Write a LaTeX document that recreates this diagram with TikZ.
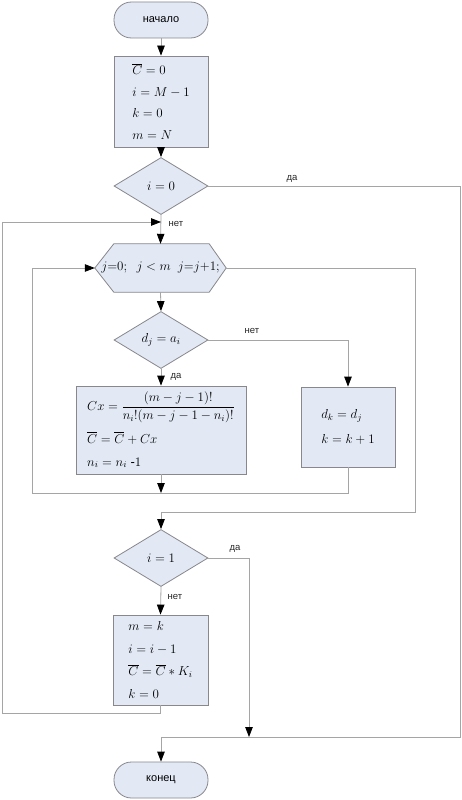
\RequirePackage{fix-cm}
\documentclass[tikz,border=0pt]{standalone}
\usepackage{amsmath}
\usepackage[no-math]{fontspec}
\setmainfont{Liberation Sans}
\usetikzlibrary{arrows.meta,shapes.geometric,backgrounds}
\definecolor{fillc}{RGB}{226,233,245}
\definecolor{bord}{RGB}{135,135,140}
\definecolor{linec}{RGB}{165,165,165}
\begin{document}
\begin{tikzpicture}[x=1pt,y=-1pt,
  base/.style={draw=bord, fill=fillc, line width=0.8pt, inner sep=0pt},
  term/.style={base, rectangle, rounded corners=17.5pt, minimum width=94pt, minimum height=36pt, font=\fontsize{11}{13}\selectfont},
  procbox/.style={base, rectangle, align=left, font=\fontsize{13}{21.5}\selectfont},
  decis/.style={base, diamond, aspect=1.65, minimum width=94pt, minimum height=57pt, font=\fontsize{13}{15}\selectfont},
  hexn/.style={inner sep=0pt, minimum width=131pt, minimum height=48pt, font=\fontsize{13}{15}\selectfont},
  conn/.style={draw=linec, line width=0.8pt},
  arr/.style={conn, -{Triangle[length=10pt,width=7.5pt,color=black]}},
  lbl/.style={font=\fontsize{9.5}{11}\selectfont, inner sep=0pt, text=black!85}
]
\useasboundingbox (0,0) rectangle (461,800);

% nodes
\node[term] (start) at (161,20) {начало};
\node[procbox, minimum width=94pt, minimum height=91pt] (b1) at (161,101.5)
  {$\overline{C}=0$\\ $i=M-1$\\ $k=0$\\ $m=N$};
\node[decis] (d1) at (161,186) {$i=0$};
\node[hexn] (hex) at (160.5,268) {$j{=}0;\ \ j<m\ \ j{=}j{+}1;$};
\begin{scope}[on background layer]
  \fill[white] (0,0) rectangle (461,800);
  \draw[base] (hex.west) -- ([xshift=19pt]hex.north west) -- ([xshift=-17pt]hex.north east)
    -- (hex.east) -- ([xshift=-17pt]hex.south east) -- ([xshift=19pt]hex.south west) -- cycle;
\end{scope}
\node[decis] (d2) at (161,340) {$d_j=a_i$};
\node[procbox, minimum width=170pt, minimum height=88pt, font=\fontsize{13}{23}\selectfont] (lb) at (161,430)
  {$Cx=\dfrac{(m-j-1)!}{n_i!(m-j-1-n_i)!}$\\[8pt] $\overline{C}=\overline{C}+Cx$\\ $n_i=n_i\ \text{-}1$};
\node[procbox, minimum width=94pt, minimum height=80pt, font=\fontsize{13}{25}\selectfont] (rb) at (348,427)
  {$d_k=d_j$\\ $k=k+1$};
\node[decis] (d3) at (161,558) {$i=1$};
\node[procbox, minimum width=95pt, minimum height=90pt, font=\fontsize{13}{22.5}\selectfont] (b4) at (160.5,660)
  {$m=k$\\ $i=i-1$\\ $\overline{C}=\overline{C}*K_i$\\ $k=0$};
\node[term] (end) at (161,780) {конец};

% labels
\node[lbl] (l1) at (292,179) {да};
\node[lbl] (l2) at (176,224) {нет};
\node[lbl] (l3) at (252,331) {нет};
\node[lbl] (l4) at (176,377) {да};
\node[lbl] (l5) at (235,549) {да};
\node[lbl] (l6) at (175,597) {нет};

% coordinates
\coordinate (jA) at (161,222);
\coordinate (lA) at (2,713);
\coordinate (jB) at (161,493);
\coordinate (lB) at (32,493);
\coordinate (rC) at (415,512);
\coordinate (jC) at (161,512);
\coordinate (rD) at (460,737);
\coordinate (jE) at (161,737);
\coordinate (jF) at (249,737);

% connectors
\draw[arr] (start) -- (b1);
\draw[arr] (b1) -- (d1);
\draw[conn] (d1.east) -| (rD) -- (jE);
\draw[arr] (d1.south) -- (hex.north);
\draw[arr] (b4.south) |- (lA) |- (jA);
\draw[arr] (hex.south) -- (d2.north);
\draw[arr] (d2.east) -| (rb.north);
\draw[arr] (d2.south) -- (lb.north);
\draw[arr] (lb.south) -- (jB);
\draw[arr] (rb.south) |- (lB) |- (hex.west);
\draw[conn] (hex.east) -| (rC) -- (jC);
\draw[arr] (jC) -- (d3.north);
\draw[arr] (d3.east) -| (jF);
\draw[arr] (d3.south) -- (b4.north);
\draw[arr] (jE) -- (end.north);
\end{tikzpicture}
\end{document}
